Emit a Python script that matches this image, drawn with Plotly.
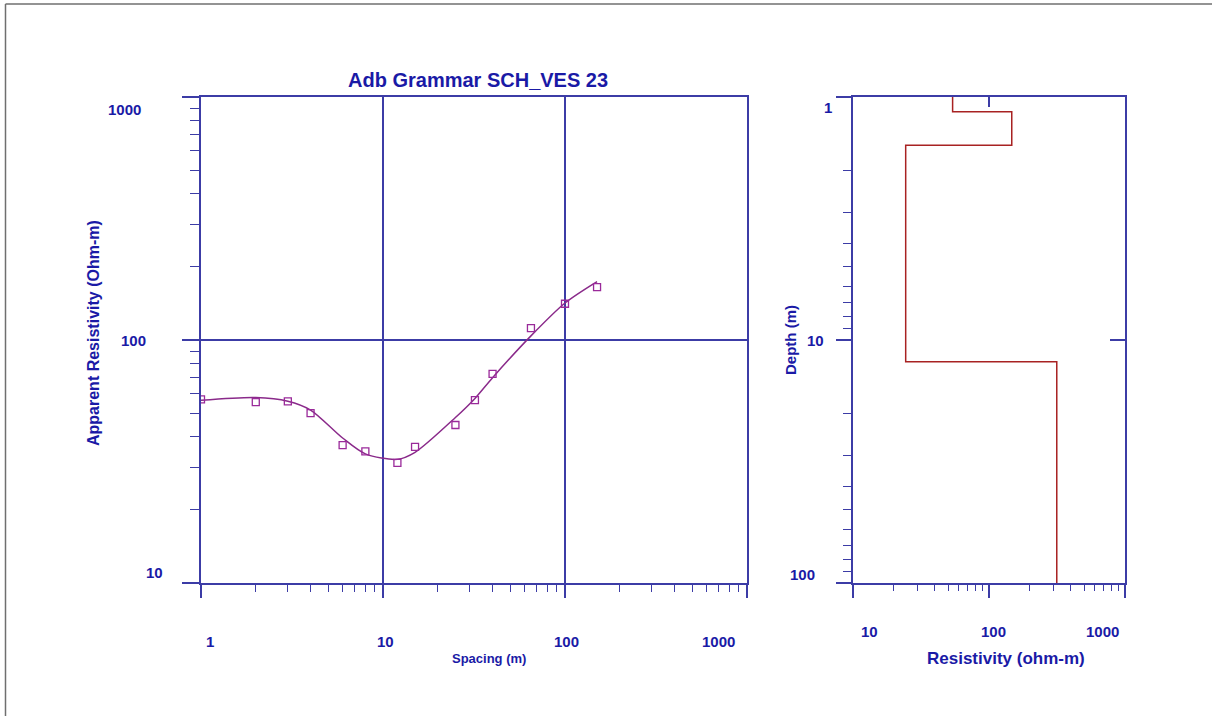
import math
import plotly.graph_objects as go

# ---- field data: Schlumberger sounding VES 23 ----
spacing = [1, 2, 3, 4, 6, 8, 12, 15, 25, 32, 40, 65, 100, 150]
rho_obs = [57.0, 55.5, 55.9, 50.0, 36.9, 34.8, 31.2, 36.3, 44.7, 56.6, 72.6, 112, 141, 165]
rho_calc = [56.5, 58.0, 56.0, 51.5, 39.5, 34.0, 32.3, 34.5, 48.0, 57.5, 70.0, 104, 142, 174]

# ---- inverted layer model ----
layer_res = [54, 147, 24.4, 315]          # ohm-m
layer_bottom = [1.15, 1.58, 12.3]         # m (last layer is a half-space)
depth_axis_max = 100

left_ticks = [1, 10, 100, 1000]
right_x_ticks = [10, 100, 1000]
right_y_ticks = [1, 10, 100]

W, H = 1212, 716
TXT = "#1a1aa6"
AX = "#3c3ca6"
FONT = "Liberation Sans, Arial, sans-serif"


def px(x):
    return x / W


def py(y):
    return 1 - y / H


# step path of the layer model
model_x = list(layer_res) + [layer_res[-1]]
model_y = [1] + list(layer_bottom) + [depth_axis_max]

fig = go.Figure()

fig.add_trace(go.Scatter(
    x=spacing, y=rho_calc, mode="lines", line=dict(color="#8a2a8a", width=1.5, shape="spline", smoothing=0.8),
    xaxis="x", yaxis="y", showlegend=False, hoverinfo="skip"))
fig.add_trace(go.Scatter(
    x=spacing, y=rho_obs, mode="markers",
    marker=dict(symbol="square-open", size=7, color="#9a2a9a", line=dict(width=1.3)),
    xaxis="x", yaxis="y", showlegend=False))
fig.add_trace(go.Scatter(
    x=model_x, y=model_y, mode="lines", line=dict(color="#a82222", width=1.5, shape="vh"),
    xaxis="x2", yaxis="y2", showlegend=False))
# carriers for the inward ticks on the model panel
fig.add_trace(go.Scatter(x=[], y=[], xaxis="x3", yaxis="y2", showlegend=False))
fig.add_trace(go.Scatter(x=[], y=[], xaxis="x2", yaxis="y3", showlegend=False))

dom_y = [py(583), py(97)]
common = dict(type="log", showline=True, linecolor=AX, linewidth=1.5, showticklabels=False,
              zeroline=False, ticks="outside", tickcolor=AX, tickwidth=1.5)

fig.update_layout(
    width=W, height=H,
    margin=dict(l=0, r=0, t=0, b=0),
    paper_bgcolor="white", plot_bgcolor="white",
    xaxis=dict(**common, domain=[px(201), px(747)], anchor="y", range=[0, 3],
               tickvals=left_ticks, ticklen=13, mirror=True,
               showgrid=True, gridcolor=AX, gridwidth=1.5,
               minor=dict(ticks="outside", ticklen=7, tickcolor=AX, tickwidth=1.2,
                          dtick="D1", showgrid=False)),
    yaxis=dict(**common, domain=dom_y, anchor="x", range=[1, 3],
               tickvals=left_ticks, ticklen=17, mirror=True,
               showgrid=True, gridcolor=AX, gridwidth=1.5,
               minor=dict(ticks="outside", ticklen=9, tickcolor=AX, tickwidth=1.2,
                          dtick="D1", showgrid=False)),
    xaxis2=dict(**common, domain=[px(853), px(1125)], anchor="y2", range=[1, 3],
                tickvals=right_x_ticks, ticklen=13, mirror=True, showgrid=False,
                minor=dict(ticks="outside", ticklen=6, tickcolor=AX, tickwidth=1.2,
                           dtick="D1", showgrid=False)),
    yaxis2=dict(**common, domain=dom_y, anchor="x2", range=[2, 0],
                tickvals=right_y_ticks, ticklen=15, mirror=True, showgrid=False,
                minor=dict(ticks="outside", ticklen=8, tickcolor=AX, tickwidth=1.2,
                           dtick="D1", showgrid=False)),
    xaxis3=dict(type="log", overlaying="x2", side="top", anchor="y2", range=[1, 3],
                tickvals=[100], ticks="inside", ticklen=10, tickcolor=AX, tickwidth=1.5,
                showticklabels=False, showgrid=False, showline=False, zeroline=False),
    yaxis3=dict(type="log", overlaying="y2", side="right", anchor="x2", range=[2, 0],
                tickvals=[10], ticks="inside", ticklen=15, tickcolor=AX, tickwidth=1.5,
                showticklabels=False, showgrid=False, showline=False, zeroline=False),
)

ann = []


def label(text, size, xanchor="center", **kw):
    ann.append(dict(text=text, showarrow=False, xanchor=xanchor, yanchor="middle",
                    font=dict(family=FONT, size=size, color=TXT), **kw))


# tick labels, left panel
lx_shift = {1: 9, 10: 2, 100: 1, 1000: -29}
for v in left_ticks:
    label(f"<b>{v}</b>", 15, xref="x", x=math.log10(v), xshift=lx_shift[v],
          yref="paper", y=py(641))
ly_pos = {1000: (143, -13), 100: (148, 0), 10: (165, 11)}
for v in [1000, 100, 10]:
    xr, ys = ly_pos[v]
    label(f"<b>{v}</b>", 15, xanchor="right", xref="paper", x=px(xr),
          yref="y", y=math.log10(v), yshift=ys)

# tick labels, right panel
rx_shift = {10: 16, 100: 4, 1000: -23}
for v in right_x_ticks:
    label(f"<b>{v}</b>", 15, xref="x2", x=math.log10(v), xshift=rx_shift[v],
          yref="paper", y=py(631))
ry_pos = {1: (828, -11), 10: (815, 0), 100: (802, 9)}
for v in right_y_ticks:
    xc, ys = ry_pos[v]
    label(f"<b>{v}</b>", 15, xref="paper", x=px(xc),
          yref="y2", y=math.log10(v), yshift=ys)

# titles
label("<b>Adb Grammar SCH_VES 23</b>", 20, xref="paper", yref="paper", x=px(478), y=py(80))
label("<b>Apparent Resistivity (Ohm-m)</b>", 16, xref="paper", yref="paper",
      x=px(93), y=py(333), textangle=-90)
label("<b>Spacing (m)</b>", 13, xref="paper", yref="paper", x=px(489), y=py(658))
label("<b>Depth (m)</b>", 15, xref="paper", yref="paper", x=px(790), y=py(340), textangle=-90)
label("<b>Resistivity (ohm-m)</b>", 17, xref="paper", yref="paper", x=px(1006), y=py(658))

fig.update_layout(annotations=ann)

# frame line along the top and left edge of the page
fig.update_layout(shapes=[
    dict(type="line", xref="paper", yref="paper", x0=px(5.5), x1=1, y0=py(4), y1=py(4),
         line=dict(color="#6f6f6f", width=1.5)),
    dict(type="line", xref="paper", yref="paper", x0=px(5.5), x1=px(5.5), y0=py(4), y1=0,
         line=dict(color="#6f6f6f", width=1.5)),
])

fig.write_html("out.html")
